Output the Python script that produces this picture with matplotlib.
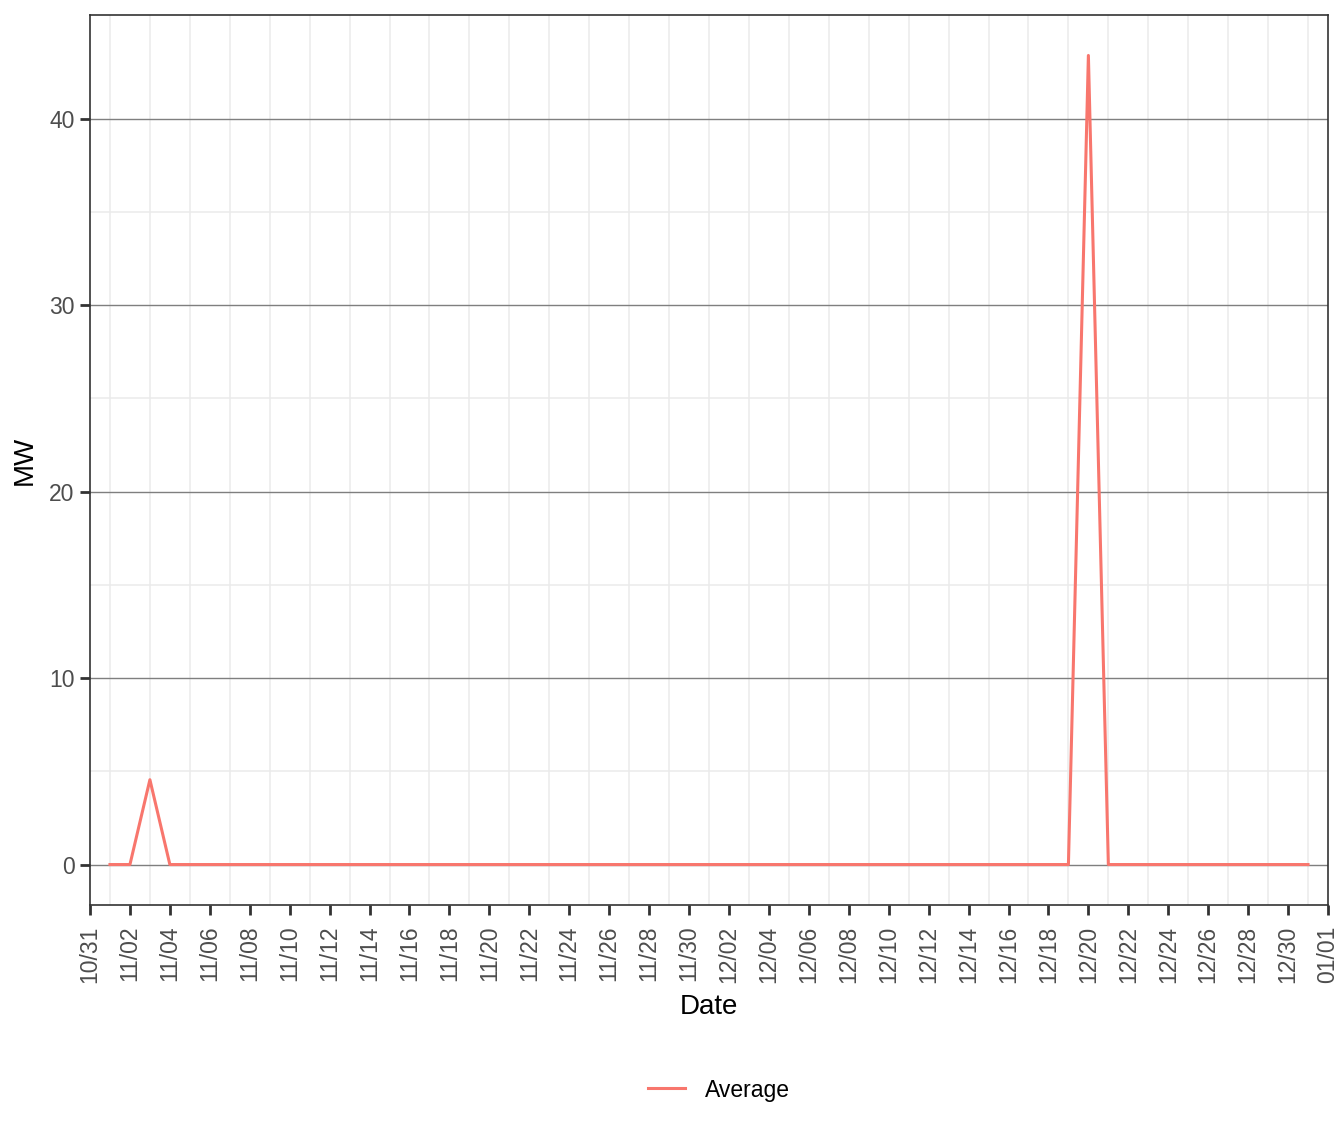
import numpy as np
import pandas as pd
import matplotlib
matplotlib.use("Agg")
from matplotlib import pyplot as plt
import matplotlib.dates as mdates

plt.rcParams['font.family'] = ['Liberation Sans', 'DejaVu Sans']

# data: daily average, 11/01 - 12/31
dates = pd.date_range("2020-11-01", "2020-12-31", freq="D")
average = [0, 0, 4.55, 0, 0, 0, 0, 0, 0, 0,
           0, 0, 0, 0, 0, 0, 0, 0, 0, 0,
           0, 0, 0, 0, 0, 0, 0, 0, 0, 0,
           0, 0, 0, 0, 0, 0, 0, 0, 0, 0,
           0, 0, 0, 0, 0, 0, 0, 0, 0, 43.4,
           0, 0, 0, 0, 0, 0, 0, 0, 0, 0,
           0]
y_ticks = [0, 10, 20, 30, 40]
y_minor = [5, 15, 25, 35]
x_ticks = pd.date_range("2020-10-31", "2021-01-01", freq="2D")
x_minor = pd.date_range("2020-11-01", "2020-12-31", freq="2D")

W, H = 1344, 1142
fig = plt.figure(figsize=(W / 100, H / 100), dpi=100)
ax = fig.add_axes([90 / W, (H - 905) / H, (1328 - 90) / W, (905 - 15) / H])

ax.plot(dates, average, color="#F8766D", lw=2.2, label="Average", zorder=3)

ax.set_xlim(x_ticks[0], x_ticks[-1])
ymax = max(average)
ax.set_ylim(-0.05 * ymax, ymax * 1.05)

ax.set_xticks(x_ticks)
ax.set_xticks(x_minor, minor=True)
ax.xaxis.set_major_formatter(mdates.DateFormatter("%m/%d"))
ax.set_yticks(y_ticks)
ax.set_yticks(y_minor, minor=True)

# grid: minor x/y light, major y gray, no major x
for d in x_minor:
    ax.axvline(d, color="#EBEBEB", lw=1.1, zorder=1)
for v in y_minor:
    ax.axhline(v, color="#EBEBEB", lw=1.1, zorder=1)
for v in y_ticks:
    ax.axhline(v, color="#7F7F7F", lw=1.0, zorder=2)

ax.tick_params(axis="x", which="major", length=7, width=2, color="#333333",
               labelsize=16.5, labelcolor="#4D4D4D", pad=8)
ax.tick_params(axis="y", which="major", length=7, width=2, color="#333333",
               labelsize=16.5, labelcolor="#4D4D4D", pad=4)
ax.tick_params(axis="both", which="minor", length=0)
plt.setp(ax.get_xticklabels(), rotation=90, va="top", ha="center")

for s in ax.spines.values():
    s.set_color("#333333")
    s.set_linewidth(1.2)

ax.set_xlabel("Date", fontsize=20, labelpad=8)
ax.set_ylabel("MW", fontsize=20, labelpad=8)

fig.legend(loc="center", bbox_to_anchor=(719 / W, (H - 1090) / H), frameon=False,
           fontsize=16.5, handlelength=1.6, handletextpad=0.9)

fig.savefig("out.png", dpi=100)
